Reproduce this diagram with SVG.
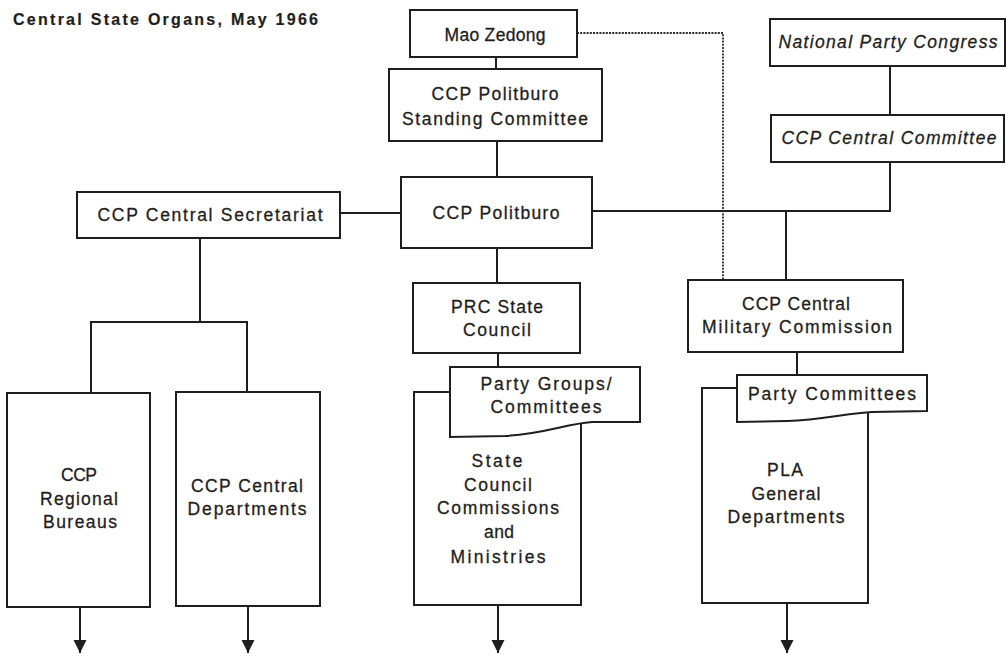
<svg xmlns="http://www.w3.org/2000/svg" width="1006" height="654" viewBox="0 0 1006 654">
<style>
.b{fill:#fff;stroke:#1e1e1e;stroke-width:2}
.c{fill:none;stroke:#1e1e1e;stroke-width:2}
.d{fill:none;stroke:#2a2a2a;stroke-width:1.8;stroke-dasharray:2 1.2}
text{font-family:"Liberation Sans",Arial,Helvetica,sans-serif;font-size:17.5px;fill:#1e1e1e;stroke:#1e1e1e;stroke-width:0.3;text-anchor:middle}
.i{font-style:italic}
.t{font-weight:bold;font-size:16px;text-anchor:start;stroke-width:0.2}
</style>
<defs>
<marker id="arr" viewBox="0 -7 14 14" refX="13" refY="0" markerUnits="userSpaceOnUse" markerWidth="14" markerHeight="14" orient="auto">
<path d="M0,-6.5 L13,0 L0,6.5 Z" fill="#1e1e1e"/>
</marker>
</defs>
<rect width="1006" height="654" fill="#fff"/>
<text class="t" x="13" y="25" textLength="305" lengthAdjust="spacing">Central State Organs, May 1966</text>

<g id="connectors">
<line class="c" x1="496" y1="57" x2="496" y2="69"/>
<line class="c" x1="497" y1="141" x2="497" y2="177"/>
<line class="c" x1="497" y1="248" x2="497" y2="283"/>
<line class="c" x1="340" y1="213" x2="401" y2="213"/>
<polyline class="c" points="592,211 890,211 890,162"/>
<line class="c" x1="890" y1="66" x2="890" y2="115"/>
<line class="c" x1="786" y1="211" x2="786" y2="280"/>
<polyline class="d" points="577,33 723,33 723,280"/>
<line class="c" x1="200" y1="238" x2="200" y2="322"/>
<polyline class="c" points="91,393 91,322 247,322 247,392"/>
<line class="c" x1="498" y1="353" x2="498" y2="367"/>
<line class="c" x1="797" y1="352" x2="797" y2="375"/>
<line class="c" x1="80" y1="607" x2="80" y2="653" marker-end="url(#arr)"/>
<line class="c" x1="248" y1="606" x2="248" y2="653" marker-end="url(#arr)"/>
<line class="c" x1="498" y1="605" x2="498" y2="653" marker-end="url(#arr)"/>
<line class="c" x1="787" y1="603" x2="787" y2="653" marker-end="url(#arr)"/>
</g>

<g id="mao">
<rect class="b" x="410" y="10" width="167" height="47"/>
<text x="495" y="41" textLength="101" lengthAdjust="spacing">Mao Zedong</text>
</g>
<g id="standing">
<rect class="b" x="389" y="69" width="213" height="72"/>
<text x="495" y="100" textLength="127" lengthAdjust="spacing">CCP Politburo</text>
<text x="495" y="125" textLength="186" lengthAdjust="spacing">Standing Committee</text>
</g>
<g id="politburo">
<rect class="b" x="401" y="177" width="191" height="71"/>
<text x="496" y="219" textLength="127" lengthAdjust="spacing">CCP Politburo</text>
</g>
<g id="congress">
<rect class="b" x="770" y="19" width="235" height="47"/>
<text class="i" x="888" y="48" textLength="219" lengthAdjust="spacing">National Party Congress</text>
</g>
<g id="central-committee">
<rect class="b" x="771" y="115" width="233" height="47"/>
<text class="i" x="889" y="144" textLength="215" lengthAdjust="spacing">CCP Central Committee</text>
</g>
<g id="secretariat">
<rect class="b" x="77" y="192" width="263" height="46"/>
<text x="210" y="221" textLength="225" lengthAdjust="spacing">CCP Central Secretariat</text>
</g>
<g id="military">
<rect class="b" x="688" y="280" width="215" height="72"/>
<text x="796" y="310" textLength="108" lengthAdjust="spacing">CCP Central</text>
<text x="797" y="333" textLength="190" lengthAdjust="spacing">Military Commission</text>
</g>
<g id="state-council">
<rect class="b" x="413" y="283" width="167" height="70"/>
<text x="497" y="313" textLength="92" lengthAdjust="spacing">PRC State</text>
<text x="497" y="336" textLength="68" lengthAdjust="spacing">Council</text>
</g>
<g id="regional">
<rect class="b" x="7" y="393" width="143" height="214"/>
<text x="79" y="481" textLength="36" lengthAdjust="spacing">CCP</text>
<text x="79" y="505" textLength="78" lengthAdjust="spacing">Regional</text>
<text x="80" y="528" textLength="74" lengthAdjust="spacing">Bureaus</text>
</g>
<g id="central-departments">
<rect class="b" x="176" y="392" width="144" height="214"/>
<text x="247" y="492" textLength="112" lengthAdjust="spacing">CCP Central</text>
<text x="247" y="515" textLength="119" lengthAdjust="spacing">Departments</text>
</g>
<g id="ministries">
<rect class="b" x="414" y="392" width="167" height="213"/>
<text x="497" y="467" textLength="51" lengthAdjust="spacing">State</text>
<text x="498" y="491" textLength="68" lengthAdjust="spacing">Council</text>
<text x="498" y="514" textLength="122" lengthAdjust="spacing">Commissions</text>
<text x="499" y="538" textLength="30" lengthAdjust="spacing">and</text>
<text x="498" y="563" textLength="95" lengthAdjust="spacing">Ministries</text>
</g>
<g id="party-groups">
<path class="b" d="M450,367 H640 V422 L592,422 C565,424 545,434 505,436 L450,437 Z"/>
<text x="546" y="390" textLength="131" lengthAdjust="spacing">Party Groups/</text>
<text x="546" y="413" textLength="111" lengthAdjust="spacing">Committees</text>
</g>
<g id="pla">
<rect class="b" x="702" y="388" width="166" height="215"/>
<text x="785" y="476" textLength="36" lengthAdjust="spacing">PLA</text>
<text x="786" y="500" textLength="69" lengthAdjust="spacing">General</text>
<text x="786" y="523" textLength="117" lengthAdjust="spacing">Departments</text>
</g>
<g id="party-committees">
<path class="b" d="M737,375 H927 V411 L872,412 C848,413 822,420 787,421 L737,422 Z"/>
<text x="832" y="400" textLength="168" lengthAdjust="spacing">Party Committees</text>
</g>
</svg>
